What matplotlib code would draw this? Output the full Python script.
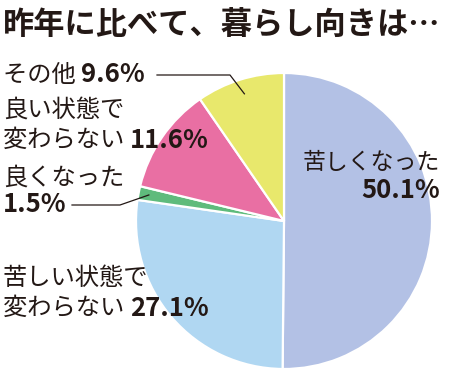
import matplotlib
matplotlib.use("Agg")
import matplotlib.pyplot as plt
import numpy as np

plt.rcParams['font.family'] = ['Noto Sans CJK JP', 'DejaVu Sans']

title = "昨年に比べて、暮らし向きは…"
categories = ["苦しくなった", "苦しい状態で変わらない", "良くなった", "良い状態で変わらない", "その他"]
values = [50.1, 27.1, 1.5, 11.6, 9.6]
colors = ["#b3c1e5", "#b0d7f2", "#5fbb7c", "#e96fa3", "#e8e86c"]

W, H = 450, 372
TXT = "#231815"
fig = plt.figure(figsize=(W / 100, H / 100), dpi=100)

cx, cy, R = 284, 221, 148
ax = fig.add_axes([(cx - R) / W, (H - cy - R) / H, 2 * R / W, 2 * R / H])
wedges, _ = ax.pie(values, colors=colors, startangle=90, counterclock=False,
                   radius=1, wedgeprops=dict(edgecolor="white", linewidth=1.6))
ax.set_xlim(-1, 1)
ax.set_ylim(-1, 1)
ax.set_aspect('equal')
ax.axis('off')


def fx(px):
    return px / W


def fy(py):
    return 1 - py / H


def to_data(px, py):
    return (px - cx) / R, (cy - py) / R


fig.text(fx(3), fy(26), title, fontsize=22.5, fontweight='bold', color=TXT,
         ha='left', va='center')

FS = 17.5
NFS = 18.5


def label(x, y, jp, num):
    t = fig.text(fx(x), fy(y), jp, fontsize=FS, color=TXT, ha='left', va='center')
    if num:
        fig.canvas.draw()
        ax.annotate(num, xy=(1, 0.5), xycoords=t, fontsize=NFS, fontweight='bold',
                    color=TXT, ha='left', va='center', annotation_clip=False)
    return t


label(3, 75, "その他 ", "9.6%")
label(3, 110, "良い状態で", None)
label(3, 140, "変わらない ", "11.6%")
label(3, 178, "良くなった", None)
fig.text(fx(3), fy(205), "1.5%", fontsize=NFS, fontweight='bold', color=TXT,
         ha='left', va='center')
label(3, 278, "苦しい状態で", None)
label(3, 308, "変わらない ", "27.1%")
fig.text(fx(440), fy(162), "苦しくなった", fontsize=16.5, color=TXT, ha='right', va='center')
fig.text(fx(440), fy(191), "50.1%", fontsize=NFS, fontweight='bold', color=TXT,
         ha='right', va='center')


def wedge_point(w, r):
    a = np.deg2rad((w.theta1 + w.theta2) / 2)
    return r * np.cos(a), r * np.sin(a)


# leader for その他
ex, ey = wedge_point(wedges[4], 0.9)
p1 = to_data(157, 75)
p2 = to_data(230, 75)
ax.plot([p1[0], p2[0], ex], [p1[1], p2[1], ey], color=TXT, lw=0.9, clip_on=False)

# leader for 良くなった
gx, gy = wedge_point(wedges[2], 0.93)
q1 = to_data(72, 205)
q2 = to_data(120, 205)
ax.plot([q1[0], q2[0], gx], [q1[1], q2[1], gy], color=TXT, lw=0.9, clip_on=False)

fig.savefig("out.png", dpi=100)
